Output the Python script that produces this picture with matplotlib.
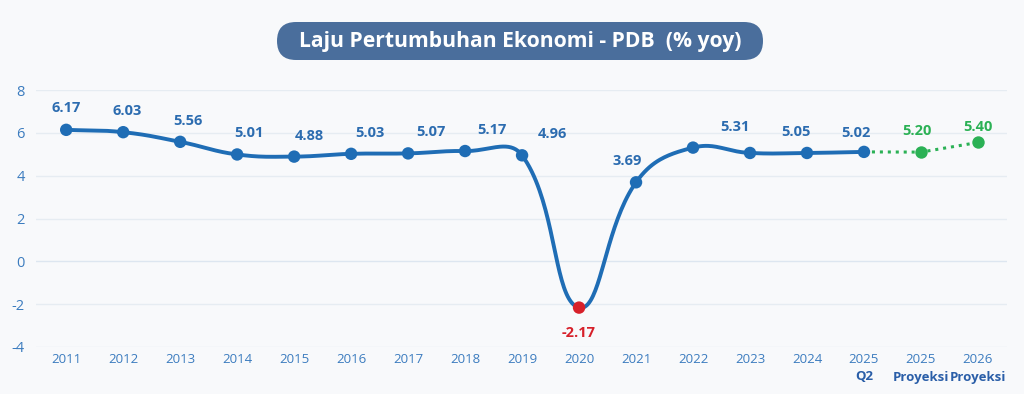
import numpy as np
import matplotlib
matplotlib.use("Agg")
import matplotlib.pyplot as plt
from matplotlib.patches import FancyBboxPatch

# --- data -----------------------------------------------------------------
years = ["2011", "2012", "2013", "2014", "2015", "2016", "2017", "2018", "2019",
         "2020", "2021", "2022", "2023", "2024", "2025", "2025", "2026"]
subtitles = ["", "", "", "", "", "", "", "", "", "", "", "", "", "", "Q2", "Proyeksi", "Proyeksi"]
actual = [6.14, 6.03, 5.58, 4.99, 4.89, 5.02, 5.04, 5.15, 4.95,
          -2.16, 3.69, 5.31, 5.06, 5.06, 5.11]
projection = [5.11, 5.10, 5.55]          # 2025 Q2 -> 2025 -> 2026
label_text = ["6.17", "6.03", "5.56", "5.01", "4.88", "5.03", "5.07", "5.17", "4.96",
              "-2.17", "3.69", "5.31", "5.05", "5.02", "5.20", "5.40"]
label_val = [6.17, 6.03, 5.56, 5.01, 4.88, 5.03, 5.07, 5.17, 4.96,
             -2.17, 3.69, 5.31, 5.05, 5.02, 5.20, 5.40]

TITLE = "Laju Pertumbuhan Ekonomi - PDB  (% yoy)"

BG = "#f8f9fb"
BLUE = "#1f6db5"
LABEL_BLUE = "#2c6cb0"
TICK_BLUE = "#3c7cbf"
DARK_BLUE = "#2a5ea8"
GREEN = "#2bb155"
RED = "#d7202a"
GRID = "#e6ecf2"
FONT = "Open Sans"

W, H = 1024, 394
fig = plt.figure(figsize=(W / 100, H / 100), dpi=100, facecolor=BG)
ax = fig.add_axes([36 / W, (H - 347) / H, (1007 - 36) / W, (347 - 90) / H])
ax.set_facecolor(BG)

x_lim = (-0.53, 16.51)
y_lim = (-4, 8)
ax.set_xlim(*x_lim)
ax.set_ylim(*y_lim)

# pixels per data unit, used for the Chart.js-style spline
sx = (1007 - 36) / (x_lim[1] - x_lim[0])
sy = (347 - 90) / (y_lim[1] - y_lim[0])


def spline(xs, ys, tension=0.42, n=40):
    """Bezier spline with Chart.js control points (computed in pixel space)."""
    px, py = np.asarray(xs, float) * sx, np.asarray(ys, float) * sy
    N = len(px)
    cprev = np.zeros((N, 2))
    cnext = np.zeros((N, 2))
    for i in range(N):
        a, b = max(i - 1, 0), min(i + 1, N - 1)
        d01 = np.hypot(px[i] - px[a], py[i] - py[a])
        d12 = np.hypot(px[b] - px[i], py[b] - py[i])
        tot = d01 + d12
        fa = tension * (d01 / tot if tot else 0)
        fb = tension * (d12 / tot if tot else 0)
        dx, dy = px[b] - px[a], py[b] - py[a]
        cprev[i] = (px[i] - fa * dx, py[i] - fa * dy)
        cnext[i] = (px[i] + fb * dx, py[i] + fb * dy)
    out_x, out_y = [], []
    t = np.linspace(0, 1, n)[:, None]
    for i in range(N - 1):
        p0 = np.array([px[i], py[i]])
        p3 = np.array([px[i + 1], py[i + 1]])
        c = ((1 - t) ** 3) * p0 + 3 * ((1 - t) ** 2) * t * cnext[i] \
            + 3 * (1 - t) * t ** 2 * cprev[i + 1] + t ** 3 * p3
        out_x.extend(c[:, 0])
        out_y.extend(c[:, 1])
    return np.array(out_x) / sx, np.array(out_y) / sy


# grid
for v in range(-4, 9, 2):
    ax.axhline(v, color="#dde6f0" if v == 0 else GRID, lw=1.0, zorder=0)
for s in ax.spines.values():
    s.set_visible(False)

xa = np.arange(len(actual))
cx, cy = spline(xa, actual)
ax.plot(cx, cy, color=BLUE, lw=2.8, solid_capstyle="round", zorder=2)
colors = [RED if v < 0 else BLUE for v in actual]
ax.scatter(xa, actual, s=80, c=colors, zorder=4, linewidths=0)

xp = np.arange(len(actual) - 1, len(actual) - 1 + len(projection))
ax.plot(xp, projection, color=GREEN, lw=2.2, ls=(0, (1, 1.6)), zorder=2)
ax.scatter(xp[1:], projection[1:], s=80, c=GREEN, zorder=4, linewidths=0)

# value labels sit on a 16-slot grid that drifts against the 17 markers
n_lab = len(label_text)
label_x = np.arange(n_lab) * (len(years) - 1) / (n_lab - 1)
label_x[9] = 9.0      # 2020 label under its marker
label_x[10] = 9.84    # 2021 label
for k, (txt, v) in enumerate(zip(label_text, label_val)):
    if v < 0:
        col, dy = RED, -25
    elif k >= n_lab - 2:
        col, dy = GREEN, 19
    else:
        col, dy = LABEL_BLUE, 21
    ax.annotate(txt, (label_x[k], v), xytext=(0, dy), textcoords="offset pixels",
                ha="center", va="center", fontsize=10.5, fontweight="bold",
                color=col, family=FONT)

# axes ticks
ax.set_yticks(range(-4, 9, 2))
ax.set_yticklabels([str(v) for v in range(-4, 9, 2)], fontsize=10.5,
                   color=TICK_BLUE, family=FONT)
ax.set_xticks(range(len(years)))
ax.set_xticklabels(years, fontsize=9.5, color=TICK_BLUE, family=FONT)
ax.tick_params(axis="both", length=0)
ax.tick_params(axis="y", pad=8)
ax.tick_params(axis="x", pad=4)
for i, sub in enumerate(subtitles):
    if sub:
        ax.annotate(sub, (i, 0), xycoords=("data", "axes fraction"),
                    xytext=(0, -30), textcoords="offset pixels",
                    ha="center", va="center", fontsize=9.5, fontweight="bold",
                    color=DARK_BLUE, family=FONT)

# pill-shaped title
tax = fig.add_axes([277 / W, (H - 60) / H, 486 / W, 38 / H])
tax.set_xlim(0, 486)
tax.set_ylim(0, 38)
tax.axis("off")
tax.add_patch(FancyBboxPatch((0, 0), 486, 38, boxstyle="round,pad=0,rounding_size=19",
                             fc="#4a6e9c", ec="none"))
tax.text(243, 19, TITLE, ha="center", va="center", color="white",
         fontsize=15.2, fontweight="bold", family=FONT)

fig.savefig("out.png", dpi=100, facecolor=BG)
